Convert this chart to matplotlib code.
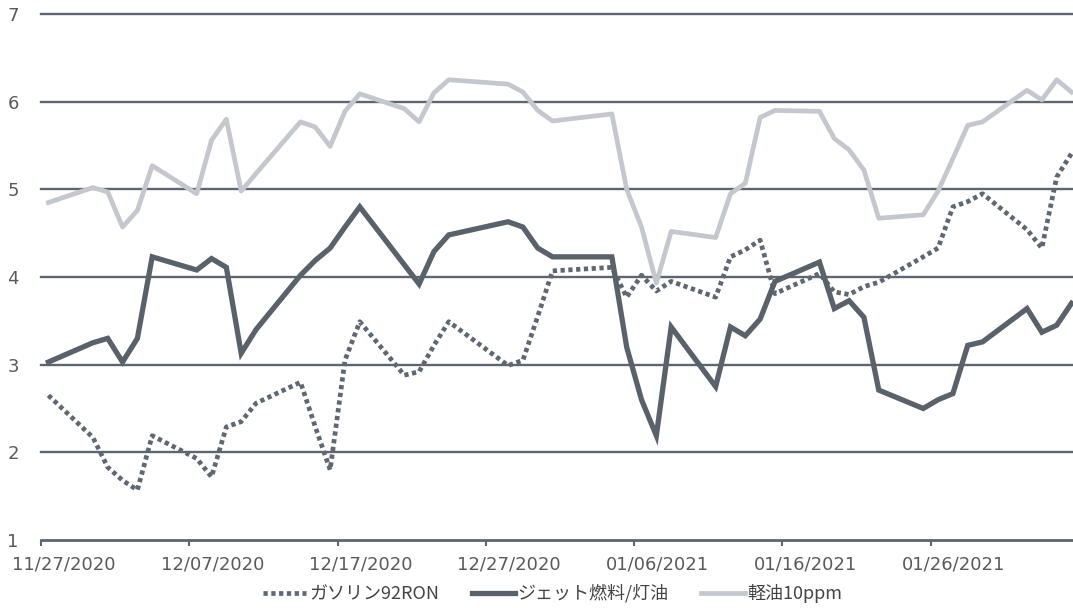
import matplotlib
matplotlib.use("Agg")
import matplotlib.pyplot as plt
import matplotlib.dates as mdates
import matplotlib.transforms as mtransforms
import pandas as pd

plt.rcParams['font.family'] = ['DejaVu Sans', 'Noto Sans CJK JP']

# trading days (weekends / holidays are simply skipped, the line joins them)
dates = ['2020-11-27', '2020-11-30', '2020-12-01', '2020-12-02', '2020-12-03',
         '2020-12-04', '2020-12-07', '2020-12-08', '2020-12-09', '2020-12-10',
         '2020-12-11', '2020-12-14', '2020-12-15', '2020-12-16', '2020-12-17',
         '2020-12-18', '2020-12-21', '2020-12-22', '2020-12-23', '2020-12-24',
         '2020-12-28', '2020-12-29', '2020-12-30', '2020-12-31', '2021-01-04',
         '2021-01-05', '2021-01-06', '2021-01-07', '2021-01-08', '2021-01-11',
         '2021-01-12', '2021-01-13', '2021-01-14', '2021-01-15', '2021-01-18',
         '2021-01-19', '2021-01-20', '2021-01-21', '2021-01-22', '2021-01-25',
         '2021-01-26', '2021-01-27', '2021-01-28', '2021-01-29', '2021-02-01',
         '2021-02-02', '2021-02-03', '2021-02-04']

gasoline = [2.65, 2.17, 1.83, 1.68, 1.57, 2.19, 1.93, 1.72, 2.29, 2.35,
            2.56, 2.80, 2.29, 1.80, 3.05, 3.49, 2.88, 2.92, 3.22, 3.49,
            2.99, 3.05, 3.55, 4.07, 4.11, 3.77, 4.02, 3.84, 3.95, 3.77,
            4.23, 4.31, 4.42, 3.81, 4.04, 3.83, 3.80, 3.89, 3.94, 4.23,
            4.33, 4.80, 4.86, 4.95, 4.54, 4.33, 5.14, 5.41]

jet = [3.03, 3.25, 3.30, 3.03, 3.30, 4.23, 4.08, 4.21, 4.11, 3.13,
       3.40, 4.02, 4.19, 4.33, 4.57, 4.80, 4.14, 3.92, 4.29, 4.48,
       4.63, 4.57, 4.33, 4.23, 4.23, 3.20, 2.60, 2.19, 3.43, 2.75,
       3.43, 3.33, 3.52, 3.95, 4.17, 3.64, 3.73, 3.54, 2.71, 2.50,
       2.60, 2.67, 3.22, 3.26, 3.64, 3.37, 3.45, 3.70]

diesel = [4.85, 5.02, 4.97, 4.57, 4.76, 5.27, 4.95, 5.56, 5.80, 4.98,
          5.18, 5.77, 5.71, 5.49, 5.89, 6.09, 5.92, 5.77, 6.10, 6.25,
          6.20, 6.11, 5.90, 5.78, 5.86, 5.00, 4.57, 3.93, 4.52, 4.45,
          4.95, 5.07, 5.82, 5.90, 5.89, 5.58, 5.45, 5.22, 4.67, 4.71,
          4.98, 5.35, 5.73, 5.77, 6.13, 6.02, 6.25, 6.11]

series_labels = ['ガソリン92RON', 'ジェット燃料/灯油', '軽油10ppm']
tick_labels = ['11/27/2020', '12/07/2020', '12/17/2020', '12/27/2020',
               '01/06/2021', '01/16/2021', '01/26/2021']
y_ticks = [1, 2, 3, 4, 5, 6, 7]

x = mdates.date2num(pd.to_datetime(dates))
start = x[0]

fig = plt.figure(figsize=(10.73, 6.08), dpi=100)
ax = fig.add_axes([41 / 1073, 68 / 608, 1 - 41 / 1073, (540 - 14) / 608])

# horizontal grid lines drawn by hand so the top one is not clipped
for yv in y_ticks[1:]:
    ax.axhline(yv, color='#5c6570', lw=1.7, zorder=1, clip_on=False)

l_gas, = ax.plot(x, gasoline, color='#5f6772', lw=3.4,
                 linestyle=(0, (0.9, 0.75)), dash_capstyle='butt', zorder=3)
l_jet, = ax.plot(x, jet, color='#59616b', lw=3.8, solid_joinstyle='miter',
                 zorder=4)
l_die, = ax.plot(x, diesel, color='#c4c7cd', lw=3.4, zorder=5)

ax.set_ylim(1, 7)
ax.set_xlim(start - 0.48, start + 69.1)

for s in ['top', 'right', 'left']:
    ax.spines[s].set_visible(False)
ax.spines['bottom'].set_color('#5c6570')
ax.spines['bottom'].set_linewidth(2)

ticks = [start - 0.5 + 10 * i for i in range(len(tick_labels))]
ax.set_xticks(ticks)
ax.set_xticklabels(tick_labels)
ax.tick_params(axis='x', length=4, width=1.5, color='#5c6570', pad=7,
               labelsize=13, labelcolor='#5a5a5a')
offset = mtransforms.ScaledTranslation(0.23, 0, fig.dpi_scale_trans)
for lab in ax.get_xticklabels():
    lab.set_transform(lab.get_transform() + offset)

ax.set_yticks(y_ticks)
ax.tick_params(axis='y', length=0, pad=16, labelsize=13, labelcolor='#5a5a5a')

fig.legend([l_gas, l_jet, l_die], series_labels, loc='center',
           bbox_to_anchor=(0.515, 0.024), ncol=3, frameon=False,
           prop={'family': ['Noto Sans CJK JP'], 'size': 13},
           handlelength=2.4, handletextpad=0.15, columnspacing=1.8,
           labelcolor='#444444', borderpad=0.1)

fig.savefig('out.png', dpi=100)
